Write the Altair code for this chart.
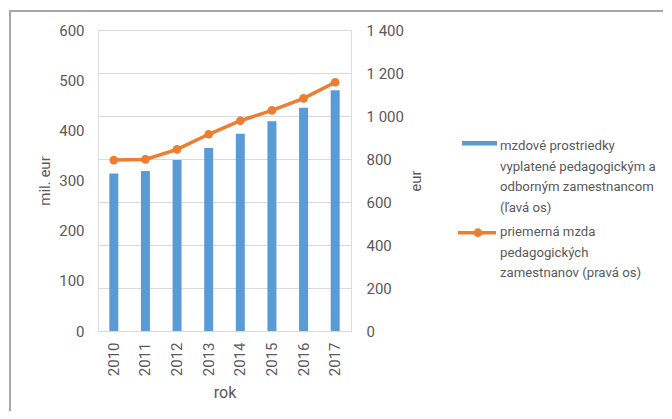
import altair as alt
import pandas as pd

years = ["2010", "2011", "2012", "2013", "2014", "2015", "2016", "2017"]
funds = [314, 319, 341, 365, 393, 418, 445, 480]          # mil. eur (left axis)
wages = [795, 798, 845, 915, 978, 1026, 1082, 1157]       # eur (right axis)
left_ticks = [0, 100, 200, 300, 400, 500, 600]
right_ticks = [0, 200, 400, 600, 800, 1000, 1200, 1400]
legend_bar_text = "mzdové prostriedky\nvyplatené pedagogickým a\nodborným zamestnancom\n(ľavá os)"
legend_line_text = "priemerná mzda\npedagogických\nzamestnanov (pravá os)"

FONT = "Roboto"
GRAY = "#595959"
BLUE = "#5B9BD5"
ORANGE = "#ED7D31"
AX = 15
LEG = 13.2

df = pd.DataFrame({"rok": years, "funds": funds, "wage": wages})

x_enc = alt.X(
    "rok:O",
    title="rok",
    axis=alt.Axis(
        labelAngle=-90, labelPadding=11, ticks=False, domain=False,
        titlePadding=9, labelFont=FONT, titleFont=FONT, labelFontSize=AX,
        titleFontSize=16, labelColor=GRAY, titleColor=GRAY, titleFontWeight="normal",
    ),
)

bars = alt.Chart(df).mark_bar(size=9, color=BLUE).encode(
    x=x_enc,
    y=alt.Y(
        "funds:Q",
        title="mil. eur",
        scale=alt.Scale(domain=[0, 600], nice=False),
        axis=alt.Axis(
            values=left_ticks, grid=False, ticks=False, domain=False,
            labelPadding=14, titlePadding=6, labelFont=FONT, titleFont=FONT,
            labelFontSize=AX, titleFontSize=AX, labelColor=GRAY, titleColor=GRAY,
            titleFontWeight="normal",
        ),
    ),
)

line = alt.Chart(df).mark_line(
    color=ORANGE, strokeWidth=3.5,
    point=alt.OverlayMarkDef(size=75, filled=True, color=ORANGE, opacity=1),
).encode(
    x=x_enc,
    y=alt.Y(
        "wage:Q",
        title="eur",
        scale=alt.Scale(domain=[0, 1400], nice=False),
        axis=alt.Axis(
            orient="right", values=right_ticks, grid=True, gridColor="#d9d9d9",
            gridWidth=1, ticks=False, domain=False, labelPadding=15,
            titlePadding=20, titleAngle=270,
            labelExpr="replace(format(datum.value, ','), ',', ' ')",
            labelFont=FONT, titleFont=FONT, labelFontSize=AX, titleFontSize=AX,
            labelColor=GRAY, titleColor=GRAY, titleFontWeight="normal",
        ),
    ),
)

one = pd.DataFrame({"t": [0]})

# chart frame (outer border of the chart area, partly outside the picture)
frame = alt.Chart(one).mark_rect(
    fillOpacity=0, stroke="#a6a6a6", strokeWidth=2
).encode(
    x=alt.value(-88), x2=alt.value(700), y=alt.value(-19), y2=alt.value(500)
)

# legend
leg_rect = alt.Chart(one).mark_rect(color=BLUE).encode(
    x=alt.value(364), x2=alt.value(399), y=alt.value(111), y2=alt.value(115.5)
)
leg_bar_txt = alt.Chart(pd.DataFrame({"t": [legend_bar_text]})).mark_text(
    align="left", baseline="top", lineBreak="\n", lineHeight=20.7,
    font=FONT, fontSize=LEG, color=GRAY,
).encode(x=alt.value(402), y=alt.value(110), text="t:N")

leg_line = alt.Chart(one).mark_rule(color=ORANGE, strokeWidth=3.5).encode(
    x=alt.value(360), x2=alt.value(398), y=alt.value(202.7)
)
leg_pt = alt.Chart(one).mark_point(size=75, filled=True, color=ORANGE, opacity=1).encode(
    x=alt.value(380), y=alt.value(202.7)
)
leg_line_txt = alt.Chart(pd.DataFrame({"t": [legend_line_text]})).mark_text(
    align="left", baseline="top", lineBreak="\n", lineHeight=20.5,
    font=FONT, fontSize=LEG, color=GRAY,
).encode(x=alt.value(402), y=alt.value(196), text="t:N")

chart = alt.layer(
    frame, bars, line, leg_rect, leg_bar_txt, leg_line, leg_pt, leg_line_txt
).resolve_scale(y="independent").properties(
    width=253,
    height=301,
    autosize=alt.AutoSizeParams(type="none"),
    padding={"left": 90, "top": 22, "right": 312, "bottom": 80},
).configure_view(stroke=None).configure(background="white")

chart.save("out.html", embed_options={"renderer": "svg", "actions": False})
